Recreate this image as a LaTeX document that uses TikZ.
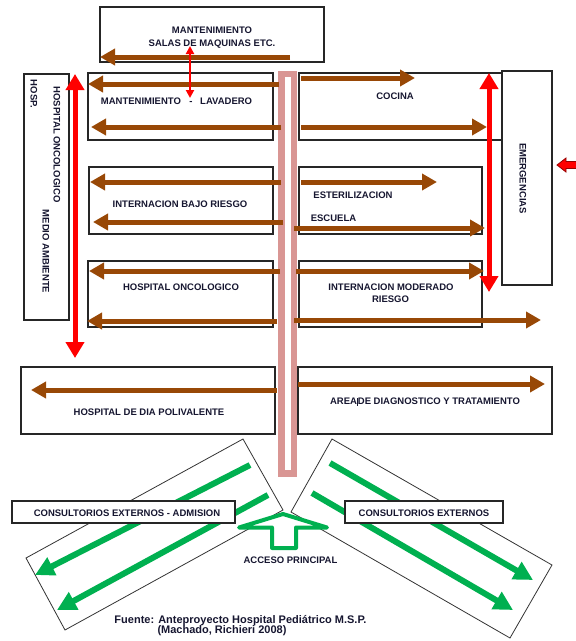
\documentclass[tikz,border=0pt]{standalone}
\usepackage{fontspec}
\setmainfont{Liberation Sans}
\usetikzlibrary{arrows.meta,fit}
\definecolor{flowbrown}{RGB}{152,72,6}
\definecolor{corridor}{RGB}{217,150,148}
\definecolor{accessgreen}{RGB}{0,176,80}
\definecolor{inkblue}{RGB}{22,22,48}
\begin{document}
\begin{tikzpicture}[x=1pt,y=-1pt,
  room/.style={draw=black!85, line width=1.1pt, inner sep=0pt},
  wing/.style={draw=black!80, line width=0.8pt},
  tag/.style={draw=black!85, line width=1.1pt, fill=white, inner sep=0pt},
  lbl/.style={font=\fontsize{9.5}{11}\selectfont\bfseries, text=inkblue, inner sep=0pt},
  vlbl/.style={lbl, rotate=-90},
  foot/.style={font=\fontsize{11}{13}\selectfont\bfseries, text=inkblue, inner sep=0pt},
  brownflow/.style={draw=flowbrown, line width=5pt, -{Triangle[length=15pt,width=16pt]}},
  redflow/.style={draw=red, line width=5pt, {Triangle[length=16pt,width=18pt]}-{Triangle[length=16pt,width=18pt]}},
  redthin/.style={draw=red, line width=2.5pt, {Triangle[length=8pt,width=8pt]}-{Triangle[length=8pt,width=8pt]}},
  greenflow/.style={draw=accessgreen, line width=6pt, -{Triangle[length=19pt,width=19pt]}}
]
\useasboundingbox (0,0) rectangle (576,641);

% ---- rooms ----
\node[room, fit={(100,7) (324,62)}] (maq) {};
\node[room, fit={(88,73) (273,140)}] (lav) {};
\node[room, fit={(299,73) (502,140)}] (coc) {};
\node[room, fit={(502,71) (552,285)}] (emg) {};
\node[room, fit={(24,74) (69,320)}] (onco) {};
\node[room, fit={(89,167) (273,234)}] (bajo) {};
\node[room, fit={(299,167) (482,234)}] (este) {};
\node[room, fit={(88,261) (273,327)}] (honc) {};
\node[room, fit={(299,261) (482,327)}] (mode) {};
\node[room, fit={(21,367) (275,434)}] (dia) {};
\node[room, fit={(298,367) (552,434)}] (diag) {};

% ---- central corridor ----
\draw[corridor, line width=6.5pt] (281.5,74) rectangle (294,473.5);

% ---- brown circulation arrows ----
\draw[brownflow] (290,57) -- (100,57);
\draw[brownflow] (279,84) -- (88,84);
\draw[brownflow] (281,127) -- (91,127);
\draw[brownflow] (301,78) -- (415,78);
\draw[brownflow] (301,127) -- (487,127);
\draw[brownflow] (281,182) -- (90,182);
\draw[brownflow] (283,222) -- (93,222);
\draw[brownflow] (301,182) -- (437,182);
\draw[brownflow] (294,228) -- (485,228);
\draw[brownflow] (280,271) -- (89,271);
\draw[brownflow] (277,321) -- (87,321);
\draw[brownflow] (296,271) -- (484,271);
\draw[brownflow] (294,320) -- (541,320);
\draw[brownflow] (277,390) -- (31,390);
\draw[brownflow] (298,384) -- (545,384);

% ---- red service arrows ----
\draw[redflow] (75,74) -- (75,358);
\draw[redflow] (489,73) -- (489,292);
\draw[redthin] (190,46) -- (190,98);
\draw[draw={rgb,255:red,150;green,0;blue,0}, fill=red, line width=0.8pt]
  (557,165) -- (566,158) -- (566,161.5) -- (577,161.5) -- (577,168.5) -- (566,168.5) -- (566,172) -- cycle;

% ---- outpatient wings ----
\draw[wing] (243,439) -- (283,510) -- (65,630) -- (26,558) -- cycle;
\draw[wing] (332,439) -- (552,565) -- (510,638) -- (291,512) -- cycle;
\draw[greenflow] (250,465) -- (35,575);
\draw[greenflow] (268,495) -- (57,610);
\draw[greenflow] (330,463) -- (533,580);
\draw[greenflow] (312,493) -- (513,610);
\node[tag, fit={(12,501) (235,523)}] (adm) {};
\node[tag, fit={(345,501) (503,523)}] (ext) {};

% ---- main access ----
\draw[accessgreen, line width=4pt, fill=white, line join=round]
  (283,514) -- (239,527.5) -- (272,527.5) -- (272,548) -- (296,548) -- (296,527.5) -- (327,527.5) -- cycle;

% ---- labels ----
\node[lbl, anchor=base] (t1) at (212,33) {MANTENIMIENTO};
\node[lbl, anchor=base] (t2) at (212,46) {SALAS DE MAQUINAS ETC.};
\node[lbl, anchor=base] (t3) at (176.5,104) {MANTENIMIENTO\hspace{0.9em}-\hspace{0.8em}LAVADERO};
\node[lbl, anchor=base] (t4) at (395,99) {COCINA};
\node[lbl, anchor=base] (t5) at (180,207) {INTERNACION BAJO RIESGO};
\node[lbl, anchor=base] (t6) at (181,290) {HOSPITAL ONCOLOGICO};
\node[lbl, anchor=base] (t7) at (353,198) {ESTERILIZACION};
\node[lbl, anchor=base] (t8) at (333.5,221) {ESCUELA};
\node[lbl, anchor=base] (t9) at (391,290) {INTERNACION MODERADO};
\node[lbl, anchor=base] (t10) at (390.5,302) {RIESGO};
\node[lbl, anchor=base] (t11) at (149,415) {HOSPITAL DE DIA POLIVALENTE};
\node[lbl, anchor=base] (t12) at (425,404) {AREA\kern0.3pt\rule[-1.5pt]{0.6pt}{7.5pt}DE DIAGNOSTICO Y TRATAMIENTO};
\node[lbl, anchor=base] (t13) at (127,516) {CONSULTORIOS EXTERNOS - ADMISION};
\node[lbl, anchor=base] (t14) at (424,516) {CONSULTORIOS EXTERNOS};
\node[lbl, anchor=base] (t15) at (290.5,563) {ACCESO PRINCIPAL};
\node[vlbl] (v1) at (523,178.5) {EMERGENCIAS};
\node[vlbl] (v2) at (57,144.5) {HOSPITAL ONCOLOGICO};
\node[vlbl] (v3) at (46,251.5) {MEDIO AMBIENTE};
\node[vlbl] (v4) at (34,94) {HOSP.};
\node[foot, anchor=base] (f1) at (240.5,623) {Fuente: Anteproyecto Hospital Pediátrico M.S.P.};
\node[foot, anchor=base] (f2) at (222,633) {(Machado, Richieri 2008)};
\end{tikzpicture}
\end{document}
